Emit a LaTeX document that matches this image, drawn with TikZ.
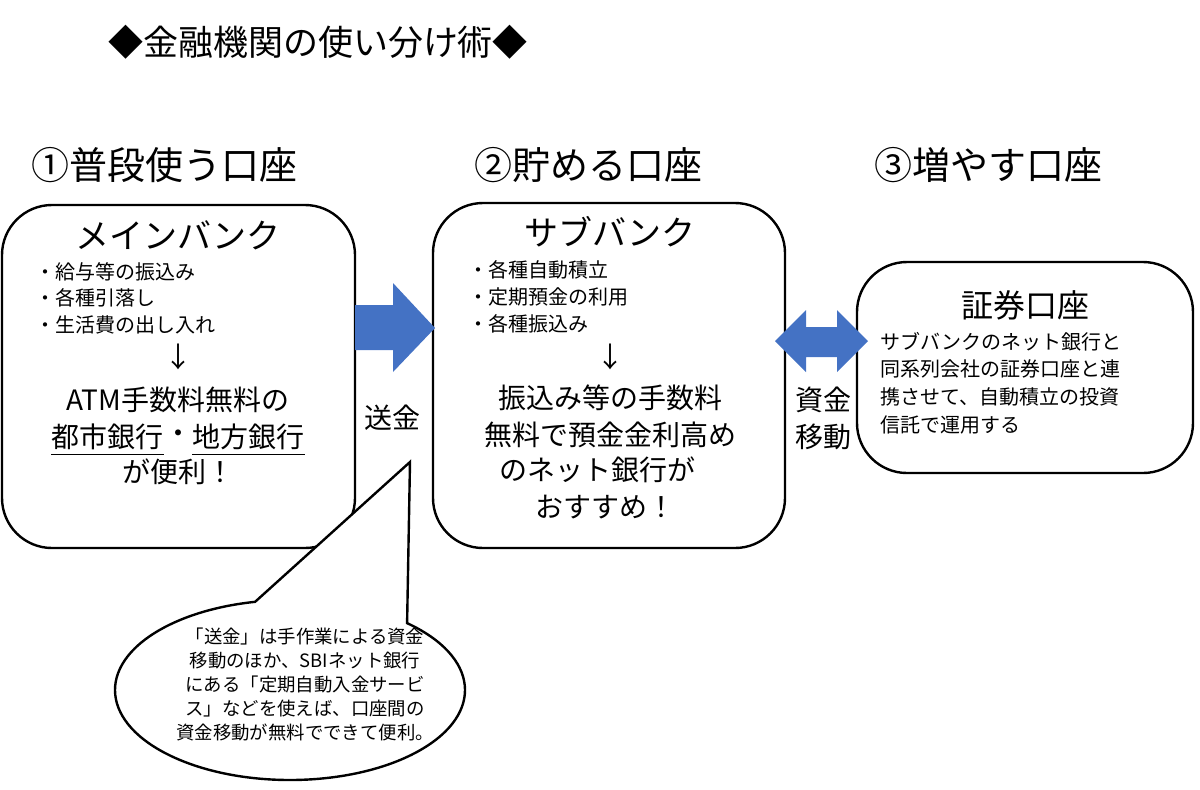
\documentclass[tikz,border=0pt]{standalone}
\usepackage{fontspec}
\setmainfont{Noto Sans CJK JP}
\begin{document}
\begin{tikzpicture}[x=0.5pt,y=-0.5pt,
  box/.style={draw,line width=1.2pt,rounded corners=25pt},
  t/.style={inner sep=0pt,anchor=center},
  bl/.style={inner sep=0pt,anchor=west,font=\fontsize{10}{12}\selectfont},
  big/.style={inner sep=0pt,font=\fontsize{14}{16}\selectfont},
  hd/.style={inner sep=0pt,font=\fontsize{19}{21}\selectfont}]
\definecolor{arrblue}{HTML}{4472C4}
\useasboundingbox (0,0) rectangle (1200,789);
\node[t,font=\fontsize{17.5}{19}\selectfont] (title) at (318,42) {◆金融機関の使い分け術◆};
\node[hd] (h1) at (165,165) {①普段使う口座};
\node[hd] (h2) at (588,165) {②貯める口座};
\node[hd] (h3) at (988,165) {③増やす口座};
% box1
\draw[box] (2,205) rectangle (355,548);
\node[t,font=\fontsize{17}{19}\selectfont] (m1) at (178,235) {メインバンク};
\node[bl] (b11) at (35,272) {・給与等の振込み};
\node[bl] (b12) at (35,298) {・各種引落し};
\node[bl] (b13) at (35,325) {・生活費の出し入れ};
\node[big] (d1) at (178,357) {↓};
\node[big] (c11) at (178,400) {ATM手数料無料の};
\node[big,anchor=east] (c12a) at (164,437) {都市銀行};
\node[big] (c12b) at (178,437) {・};
\node[big,anchor=west] (c12c) at (192,437) {地方銀行};
\draw[line width=0.8pt] (c12a.south west) ++(0,4) -- ([yshift=-2pt]c12a.south east);
\draw[line width=0.8pt] (c12c.south west) ++(0,4) -- ([yshift=-2pt]c12c.south east);
\node[big] (c13) at (178,472) {が便利！};
% box2
\draw[box] (433,203) rectangle (785,548);
\node[t,font=\fontsize{17}{19}\selectfont] (m2) at (610,232) {サブバンク};
\node[bl] (b21) at (468,270) {・各種自動積立};
\node[bl] (b22) at (468,297) {・定期預金の利用};
\node[bl] (b23) at (468,324) {・各種振込み};
\node[big] (d2) at (610,357) {↓};
\node[big] (c21) at (610,398) {振込み等の手数料};
\node[big] (c22) at (610,435) {無料で預金金利高め};
\node[big] (c23) at (597,470) {のネット銀行が};
\node[big] (c24) at (605,507) {おすすめ！};
% box3
\draw[box] (857,262) rectangle (1193,473);
\node[t,font=\fontsize{16}{18}\selectfont] (m3) at (1025,305) {証券口座};
\node[bl] (b31) at (880,342) {サブバンクのネット銀行と};
\node[bl] (b32) at (880,369) {同系列会社の証券口座と連};
\node[bl] (b33) at (880,397) {携させて、自動積立の投資};
\node[bl] (b34) at (880,425) {信託で運用する};
% arrows
\fill[arrblue] (355,305) -- (393,305) -- (393,283) -- (435,328) -- (393,372) -- (393,350) -- (355,350) -- cycle;
\node[big] (s1) at (392,418) {送金};
\fill[arrblue] (775,341) -- (806,310) -- (806,327) -- (837,327) -- (837,310) -- (868,341) -- (837,372) -- (837,357) -- (806,357) -- (806,372) -- cycle;
\node[big] (s2) at (823,400) {資金};
\node[big] (s3) at (823,437) {移動};
% callout
\coordinate (tip) at (410,462);
\draw[line width=1.2pt,fill=white] ([shift={(-101.5:175 and 90)}]290,690) -- (tip)
  -- ([shift={(-48:175 and 90)}]290,690)
  arc[start angle=-48,end angle=258.5,x radius=175,y radius=90] -- cycle;
\node[t,font=\fontsize{9.2}{12}\selectfont,align=center] (cl) at (305,684) {「送金」は手作業による資金\\移動のほか、SBIネット銀行\\にある「定期自動入金サービ\\ス」などを使えば、口座間の\\資金移動が無料でできて便利。};
\end{tikzpicture}
\end{document}
